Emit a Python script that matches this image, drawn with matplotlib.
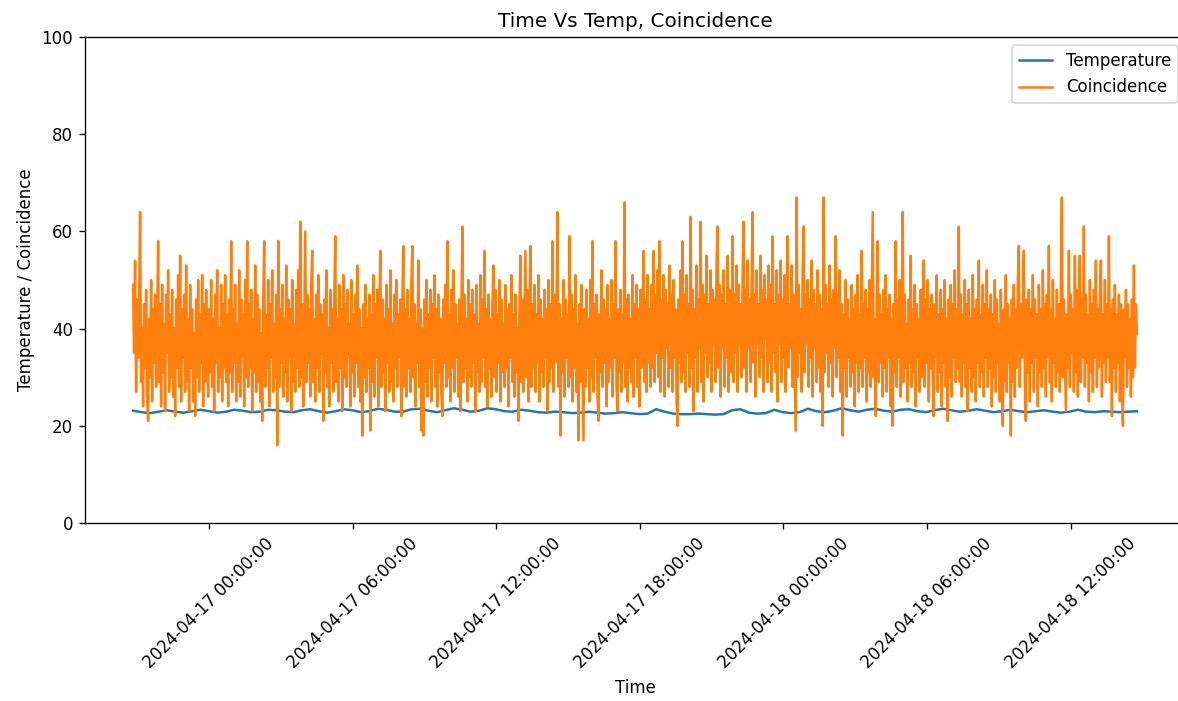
import matplotlib
matplotlib.use("Agg")
import matplotlib.pyplot as plt
import matplotlib.dates as mdates
import pandas as pd

# coincidence counts, roughly one value per pixel column
coinc = [
    49, 35, 54, 27, 46, 34, 44, 64, 29, 40, 24, 45, 32, 48, 26, 21, 42, 30, 50, 25, 44, 33, 47, 28, 41,
    58, 29, 45, 24, 49, 31, 41, 23, 47, 35, 52, 27, 43, 30, 48, 26, 40, 22, 46, 32, 51, 28, 55, 25, 44,
    34, 47, 27, 53, 29, 42, 23, 49, 32, 44, 25, 39, 22, 46, 30, 50, 27, 43, 33, 51, 24, 45, 29, 48, 35,
    26, 44, 31, 50, 28, 42, 23, 47, 33, 52, 27, 40, 30, 49, 25, 45, 32, 51, 29, 43, 24, 46, 31, 58, 27,
    44, 33, 49, 25, 41, 29, 52, 26, 46, 34, 43, 24, 50, 30, 58, 28, 45, 32, 48, 23, 42, 31, 53, 27, 47,
    29, 44, 25, 39, 21, 46, 58, 28, 43, 32, 50, 24, 45, 34, 52, 27, 41, 30, 47, 16, 58, 28, 44, 33, 49,
    26, 42, 31, 53, 25, 46, 34, 44, 23, 50, 29, 41, 27, 48, 32, 52, 28, 62, 30, 45, 24, 43, 60, 29, 47,
    33, 44, 26, 49, 56, 29, 42, 25, 47, 32, 51, 27, 45, 34, 43, 21, 46, 31, 52, 28, 40, 24, 48, 33, 44,
    27, 46, 59, 29, 42, 25, 49, 32, 44, 23, 51, 30, 45, 28, 48, 34, 41, 24, 50, 31, 43, 26, 47, 33, 53,
    28, 44, 25, 40, 18, 45, 30, 49, 27, 42, 32, 47, 19, 43, 29, 51, 26, 45, 34, 48, 24, 44, 56, 28, 46,
    31, 42, 23, 49, 33, 44, 27, 52, 29, 41, 25, 47, 32, 50, 28, 43, 34, 46, 22, 45, 57, 28, 44, 26, 48,
    32, 42, 27, 49, 57, 30, 45, 24, 41, 33, 54, 28, 44, 19, 40, 18, 46, 29, 50, 26, 43, 32, 48, 25, 45,
    34, 51, 28, 44, 24, 47, 31, 42, 27, 22, 46, 33, 49, 28, 58, 30, 43, 25, 48, 32, 52, 27, 45, 34, 41,
    26, 46, 23, 44, 61, 29, 47, 32, 42, 25, 50, 30, 45, 28, 48, 33, 43, 23, 49, 31, 41, 27, 51, 29, 46,
    34, 56, 28, 44, 24, 47, 32, 42, 26, 45, 53, 30, 48, 27, 43, 33, 50, 25, 46, 31, 41, 28, 49, 32, 44,
    24, 45, 34, 51, 29, 43, 26, 47, 31, 40, 21, 44, 55, 29, 46, 27, 42, 56, 30, 48, 25, 44, 57, 28, 45,
    32, 49, 27, 43, 33, 51, 25, 46, 31, 42, 28, 48, 34, 44, 23, 50, 29, 45, 32, 58, 27, 47, 33, 43, 64,
    28, 45, 18, 42, 31, 50, 26, 46, 34, 43, 28, 59, 30, 47, 25, 44, 32, 51, 27, 41, 17, 45, 29, 49, 33,
    17, 44, 28, 48, 32, 42, 25, 50, 30, 58, 27, 45, 34, 47, 26, 21, 43, 31, 52, 28, 46, 33, 44, 24, 49,
    29, 42, 32, 50, 26, 45, 34, 58, 28, 23, 44, 31, 48, 27, 43, 33, 66, 28, 46, 25, 47, 32, 42, 29, 51,
    26, 45, 34, 49, 28, 44, 24, 48, 32, 42, 56, 29, 46, 27, 51, 33, 44, 28, 49, 32, 56, 29, 47, 35, 52,
    30, 58, 27, 46, 34, 51, 26, 48, 36, 45, 28, 53, 32, 47, 27, 50, 34, 44, 25, 20, 46, 33, 52, 29, 58,
    31, 47, 27, 51, 35, 45, 28, 63, 32, 48, 23, 44, 34, 53, 27, 46, 36, 62, 29, 49, 25, 47, 35, 55, 30,
    45, 33, 52, 27, 48, 37, 46, 29, 54, 61, 32, 49, 26, 47, 36, 52, 28, 45, 34, 55, 27, 48, 38, 31, 59,
    29, 47, 35, 53, 27, 49, 37, 45, 30, 51, 62, 32, 48, 27, 54, 36, 46, 29, 50, 64, 33, 47, 26, 52, 37,
    45, 30, 55, 34, 48, 27, 51, 38, 46, 29, 53, 33, 49, 27, 59, 35, 45, 31, 52, 25, 47, 37, 54, 29, 46,
    34, 51, 27, 48, 59, 32, 45, 36, 53, 28, 47, 33, 19, 67, 30, 49, 35, 44, 27, 52, 61, 31, 47, 37, 50,
    28, 46, 34, 54, 26, 48, 36, 45, 29, 52, 32, 47, 27, 44, 20, 67, 31, 49, 35, 45, 28, 53, 33, 46, 26,
    48, 36, 59, 30, 47, 34, 52, 27, 45, 18, 43, 32, 50, 26, 46, 34, 42, 28, 49, 31, 44, 24, 47, 33, 51,
    27, 43, 32, 56, 28, 45, 34, 48, 25, 44, 31, 50, 28, 46, 64, 30, 42, 22, 45, 58, 29, 47, 33, 43, 26,
    48, 32, 51, 27, 44, 34, 47, 24, 42, 20, 45, 31, 58, 28, 46, 34, 50, 26, 43, 64, 29, 47, 32, 41, 25,
    46, 33, 55, 28, 44, 31, 49, 24, 45, 34, 42, 27, 48, 30, 43, 54, 28, 46, 33, 50, 25, 44, 32, 47, 29,
    22, 45, 34, 51, 27, 43, 31, 48, 24, 44, 33, 50, 28, 42, 21, 46, 30, 49, 26, 45, 34, 52, 29, 44, 32,
    61, 29, 47, 26, 43, 33, 50, 28, 45, 23, 48, 32, 42, 27, 51, 30, 44, 25, 46, 33, 54, 28, 43, 31, 49,
    26, 45, 34, 52, 28, 44, 32, 47, 24, 43, 30, 50, 27, 46, 33, 41, 25, 48, 31, 20, 44, 29, 51, 27, 45,
    33, 42, 18, 46, 29, 49, 26, 44, 32, 50, 57, 28, 45, 34, 43, 56, 29, 21, 46, 31, 48, 25, 44, 33, 51,
    27, 46, 34, 43, 24, 49, 31, 44, 28, 52, 32, 45, 26, 47, 34, 57, 29, 44, 25, 50, 33, 42, 28, 48, 31,
    45, 27, 49, 67, 30, 46, 34, 23, 43, 32, 56, 28, 47, 35, 44, 27, 55, 31, 48, 26, 45, 55, 29, 46, 34,
    61, 28, 47, 33, 43, 25, 50, 31, 45, 27, 48, 34, 54, 28, 44, 32, 47, 54, 26, 43, 33, 50, 29, 45, 34,
    59, 29, 44, 22, 46, 32, 49, 27, 43, 33, 47, 25, 45, 31, 20, 44, 34, 48, 28, 45, 32, 42, 26, 46, 30,
    53, 32, 45, 39,
]

# temperature, slow wiggle around 23 C
temp = [
    23.1, 22.8, 22.6, 22.9, 23.2, 22.9, 22.7, 23.0, 23.3, 23.0, 22.7, 22.9, 23.3, 23.1,
    22.8, 22.9, 23.3, 23.2, 22.9, 22.8, 23.2, 23.4, 23.0, 22.7, 23.0, 23.4, 23.2, 22.8,
    23.0, 23.5, 23.3, 22.9, 22.9, 23.4, 23.5, 23.1, 22.8, 23.2, 23.6, 23.3, 22.9, 23.1,
    23.6, 23.4, 23.0, 22.9, 23.3, 23.1, 22.8, 22.7, 22.9, 22.8, 22.6, 22.7, 22.9, 22.7,
    22.5, 22.6, 22.8, 22.6, 22.4, 22.5, 23.4, 22.9, 22.5, 22.4, 22.4, 22.5, 22.4, 22.3,
    22.4, 23.2, 23.4, 22.7, 22.5, 22.6, 23.3, 22.8, 22.6, 22.8, 23.5, 23.0, 22.8, 23.1,
    23.6, 23.2, 22.9, 23.3, 23.5, 23.1, 22.9, 23.3, 23.4, 23.0, 22.8, 23.2, 23.5, 23.2,
    22.9, 23.1, 23.4, 23.1, 22.8, 23.0, 23.3, 23.0, 22.8, 23.0, 23.2, 22.9, 22.7, 22.9,
    23.3, 22.9, 22.8, 23.0, 22.9, 22.8, 22.9, 23.0,
]

t_start = "2024-04-16 20:50:00"
t_end = "2024-04-18 14:46:00"
x_lo = "2024-04-16 18:49:00"
x_hi = "2024-04-18 16:49:00"

t_coinc = pd.date_range(t_start, t_end, periods=len(coinc))
t_temp = pd.date_range(t_start, t_end, periods=len(temp))

fig, ax = plt.subplots(figsize=(1178 / 120, 701 / 120), dpi=120)
# right spine sits just past the image edge, as in the (cropped) reference
plt.subplots_adjust(left=0.072, right=1.0068, top=0.947, bottom=0.254)

ax.plot(t_temp, temp, label="Temperature")
ax.plot(t_coinc, coinc, label="Coincidence")

ax.set_ylim(0, 100)
ax.set_xlim(pd.Timestamp(x_lo), pd.Timestamp(x_hi))
ax.xaxis.set_major_locator(mdates.HourLocator(byhour=[0, 6, 12, 18]))
ax.xaxis.set_major_formatter(mdates.DateFormatter("%Y-%m-%d %H:%M:%S"))
plt.xticks(rotation=45)
ax.set_xlabel("Time")
ax.set_ylabel("Temperature / Coincidence")
ax.set_title("Time Vs Temp, Coincidence")
ax.legend(loc="upper right")

plt.savefig("out.png")
